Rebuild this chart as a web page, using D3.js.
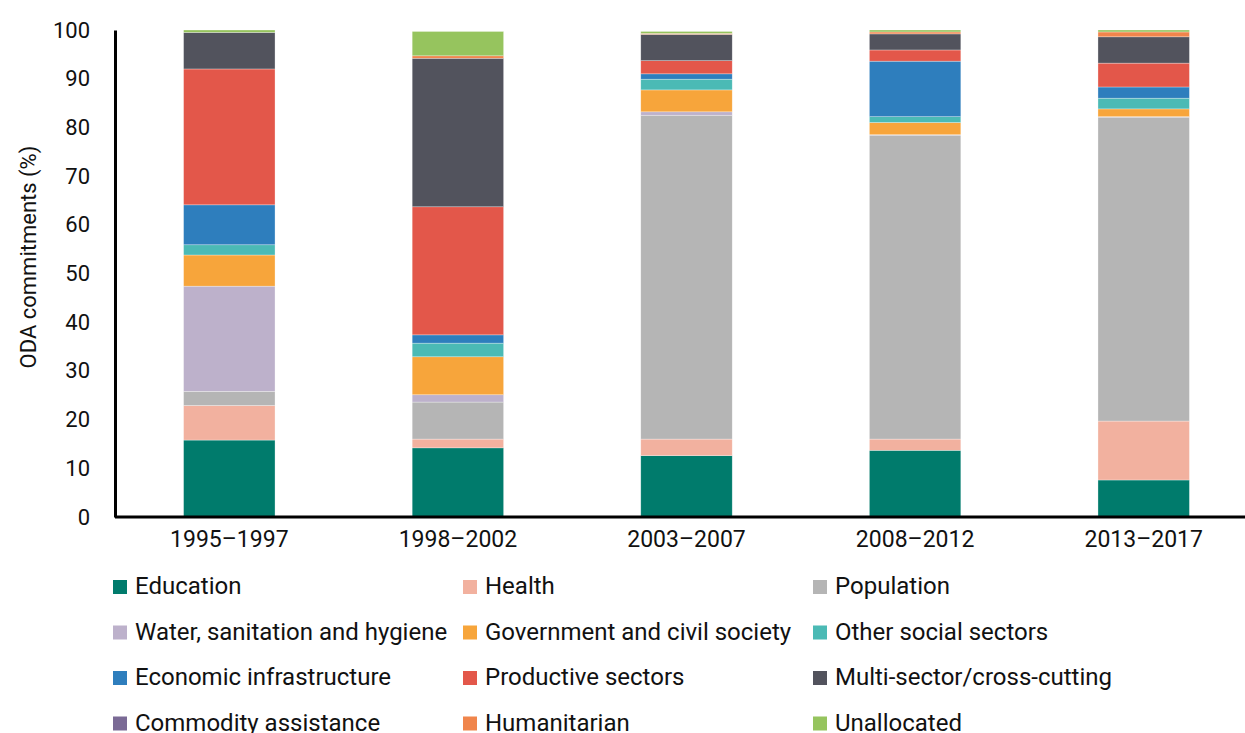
<!DOCTYPE html>
<html>
<head>
<meta charset="utf-8">
<title>ODA commitments by sector</title>
<script src="https://d3js.org/d3.v7.min.js"></script>
<style>
  body { margin: 0; background: #fff; }
  text { font-family: "Liberation Sans Narrow", "Arial Narrow", "Roboto", sans-serif; fill: #111; }
</style>
</head>
<body>
<svg id="chart" width="1245" height="733"></svg>
<script>
var periods = ["1995–1997", "1998–2002", "2003–2007", "2008–2012", "2013–2017"];

var education     = [15.8, 14.2, 12.6, 13.7, 7.6];
var health        = [7.1, 1.8, 3.4, 2.3, 12.1];
var population    = [2.9, 7.6, 66.5, 62.4, 62.4];
var wash          = [21.6, 1.5, 0.7, 0.1, 0.1];
var government    = [6.4, 7.8, 4.5, 2.5, 1.6];
var otherSocial   = [2.1, 2.8, 2.2, 1.2, 2.2];
var economic      = [8.2, 1.7, 1.1, 11.4, 2.3];
var productive    = [27.9, 26.3, 2.7, 2.3, 4.9];
var multiSector   = [7.5, 30.5, 5.4, 3.3, 5.4];
var commodity     = [0, 0, 0, 0, 0];
var humanitarian  = [0, 0.5, 0.2, 0.4, 1.0];
var unallocated   = [0.5, 5.0, 0.4, 0.4, 0.4];

var seriesNames = ["Education", "Health", "Population", "Water, sanitation and hygiene",
  "Government and civil society", "Other social sectors", "Economic infrastructure",
  "Productive sectors", "Multi-sector/cross-cutting", "Commodity assistance",
  "Humanitarian", "Unallocated"];
var seriesValues = [education, health, population, wash, government, otherSocial,
  economic, productive, multiSector, commodity, humanitarian, unallocated];
var seriesColors = ["#007b6c", "#f2b19f", "#b5b5b5", "#bdb1cb", "#f7a53b", "#4bbab5",
  "#2e7ebd", "#e3574a", "#52535d", "#7a6a95", "#f0854b", "#96c45e"];

var yTicks = [0, 10, 20, 30, 40, 50, 60, 70, 80, 90, 100];

// build rows for d3.stack
var rows = periods.map(function(p, i) {
  var r = { period: p };
  seriesNames.forEach(function(n, j) { r[n] = seriesValues[j][i]; });
  return r;
});

var svg = d3.select("#chart");

var x = d3.scaleBand()
    .domain(periods)
    .range([115, 1258])
    .paddingInner(0.6)
    .paddingOuter(0.3);

var y = d3.scaleLinear()
    .domain([0, 100])
    .range([517, 30]);

var color = d3.scaleOrdinal().domain(seriesNames).range(seriesColors);

var stacked = d3.stack().keys(seriesNames)(rows);

svg.append("g")
  .selectAll("g")
  .data(stacked)
  .enter().append("g")
    .attr("fill", function(d) { return color(d.key); })
  .selectAll("rect")
  .data(function(d) { return d; })
  .enter().append("rect")
    .attr("x", function(d) { return x(d.data.period); })
    .attr("width", x.bandwidth())
    .attr("y", function(d) { return y(d[1]); })
    .attr("height", function(d) { return Math.max(0, y(d[0]) - y(d[1])); })
    .attr("stroke", "#fff")
    .attr("stroke-width", 0.6)
    .attr("stroke-opacity", 0.5);

// y axis
var yAxis = svg.append("g")
    .attr("transform", "translate(115,0)")
    .call(d3.axisLeft(y).tickValues(yTicks).tickSize(0).tickPadding(25));
yAxis.select(".domain").attr("stroke", "#000").attr("stroke-width", 3);
yAxis.selectAll("text").style("font-size", "22px").attr("fill", "#111");

// x axis
var xAxis = svg.append("g")
    .attr("transform", "translate(0,517)")
    .call(d3.axisBottom(x).tickSize(0).tickPadding(14));
xAxis.select(".domain").attr("d", "M115,0H1245").attr("stroke", "#000").attr("stroke-width", 3);
xAxis.selectAll("text").style("font-size", "23px").attr("fill", "#111");

svg.append("text")
    .attr("transform", "translate(36,257) rotate(-90)")
    .attr("text-anchor", "middle")
    .style("font-size", "22px")
    .text("ODA commitments (%)");

// legend, 3 columns
var colX = [113, 463, 813];
var legend = svg.append("g")
  .selectAll("g")
  .data(seriesNames)
  .enter().append("g")
    .attr("transform", function(d, i) {
      return "translate(" + colX[i % 3] + "," + (585 + Math.floor(i / 3) * 45.5) + ")";
    });
legend.append("rect")
    .attr("x", 0).attr("y", -5)
    .attr("width", 14).attr("height", 14)
    .attr("fill", function(d) { return color(d); });
legend.append("text")
    .attr("x", 22).attr("y", 9)
    .style("font-size", "24px")
    .text(function(d) { return d; });
</script>
</body>
</html>
